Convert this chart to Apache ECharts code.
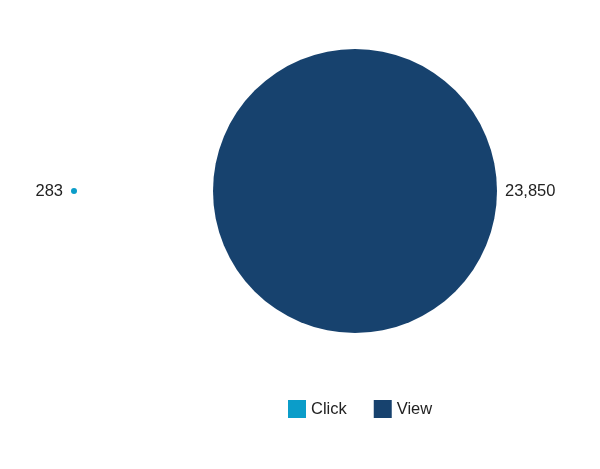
<!DOCTYPE html>
<html><head><meta charset="utf-8">
<script src="https://cdn.jsdelivr.net/npm/echarts@6/dist/echarts.min.js"></script>
<style>html,body{margin:0;padding:0;background:#fff}#c{width:600px;height:469px}</style>
</head><body><div id="c"></div>
<script>
var categories = ['Click', 'View'];
var values = [283, 23850];
var colors = ['#0b9dc9', '#17426e'];
var centersX = [74, 355];
var centerY = 191;
var maxDiameter = 284;
var maxVal = Math.max.apply(null, values);
var chart = echarts.init(document.getElementById('c'));
var series = categories.map(function (name, i) {
  return {
    type: 'scatter',
    name: name,
    data: [[centersX[i], centerY, values[i]]],
    symbolSize: function (v) { return Math.max(6, v[2] / maxVal * maxDiameter); },
    itemStyle: { color: colors[i], opacity: 1 },
    label: {
      show: true,
      position: i === 0 ? 'left' : 'right',
      distance: 8,
      color: '#222',
      fontSize: 16.5,
      fontFamily: 'Liberation Sans, Arial, sans-serif',
      formatter: function (p) { return p.value[2].toLocaleString('en-US'); }
    },
    emphasis: { disabled: true }
  };
});
chart.setOption({
  animation: false,
  grid: { left: 0, right: 0, top: 0, bottom: 0 },
  xAxis: { type: 'value', min: 0, max: 600, show: false },
  yAxis: { type: 'value', min: 0, max: 469, inverse: true, show: false },
  legend: {
    data: categories.map(function (n, i) { return { name: n, icon: 'rect' }; }),
    left: 283,
    top: 395,
    itemWidth: 18,
    itemHeight: 18,
    itemGap: 27,
    textStyle: { color: '#222', fontSize: 16.5, fontFamily: 'Liberation Sans, Arial, sans-serif' }
  },
  series: series
});
</script></body></html>
